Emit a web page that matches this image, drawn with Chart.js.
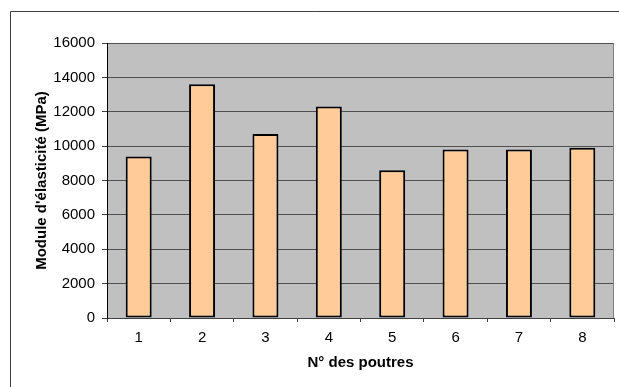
<!DOCTYPE html>
<html>
<head>
<meta charset="utf-8">
<script src="https://cdn.jsdelivr.net/npm/chart.js@4"></script>
<style>
  html, body { margin: 0; padding: 0; background: #fff; }
  #wrap { width: 619px; height: 387px; position: relative; }
</style>
</head>
<body>
<div id="wrap"><canvas id="c" width="619" height="387"></canvas></div>
<script>
const categories = ['1', '2', '3', '4', '5', '6', '7', '8'];
const modulusValues = [9400, 13600, 10700, 12300, 8600, 9800, 9800, 9900];
const yTickStep = 2000;
const yMin = 0;
const yMax = 16000;
const xTitle = 'N° des poutres';
const yTitle = "Module d'élasticité (MPa)";

const FONT = 'Liberation Sans, Arial, sans-serif';

const bgPlugin = {
  id: 'bgPlugin',
  beforeDraw(chart) {
    const { ctx, chartArea: a } = chart;
    ctx.save();
    ctx.fillStyle = '#ffffff';
    ctx.fillRect(0, 0, chart.width, chart.height);
    ctx.strokeStyle = '#404040';
    ctx.lineWidth = 1;
    ctx.beginPath();
    ctx.moveTo(10.5, chart.height);
    ctx.lineTo(10.5, 11.5);
    ctx.lineTo(chart.width, 11.5);
    ctx.stroke();
    ctx.fillStyle = '#C0C0C0';
    ctx.fillRect(a.left, a.top, a.right - a.left, a.bottom - a.top);
    ctx.restore();
  },
  afterDraw(chart) {
    const { ctx, chartArea: a } = chart;
    ctx.save();
    ctx.strokeStyle = '#808080';
    ctx.lineWidth = 1;
    ctx.beginPath();
    ctx.moveTo(Math.round(a.right) - 0.5, a.top);
    ctx.lineTo(Math.round(a.right) - 0.5, a.bottom);
    ctx.stroke();
    ctx.restore();
  }
};

new Chart(document.getElementById('c'), {
  type: 'bar',
  data: {
    labels: categories,
    datasets: [{
      data: modulusValues,
      backgroundColor: '#FFCC99',
      borderColor: '#000000',
      borderWidth: 2,
      borderSkipped: false,
      barPercentage: 0.41,
      categoryPercentage: 1.0
    }]
  },
  options: {
    responsive: false,
    animation: false,
    devicePixelRatio: 1,
    layout: { padding: { left: 33, top: 43, right: 5, bottom: 15 } },
    plugins: {
      legend: { display: false },
      tooltip: { enabled: false },
      title: { display: false }
    },
    scales: {
      x: {
        afterFit(scale) { scale.height = 54; },
        grid: {
          display: true,
          offset: true,
          drawOnChartArea: false,
          drawTicks: true,
          tickLength: 4,
          color: '#404040'
        },
        border: { display: true, color: '#404040', width: 1 },
        ticks: {
          color: '#000',
          font: { family: FONT, size: 15 },
          padding: 7,
          maxRotation: 0
        },
        title: {
          display: true,
          text: xTitle,
          color: '#000',
          font: { family: FONT, size: 15, weight: 'bold' },
          padding: 0
        }
      },
      y: {
        min: yMin,
        max: yMax,
        afterFit(scale) { scale.width = 74; },
        grid: {
          color: '#505050',
          lineWidth: 1,
          drawTicks: true,
          tickLength: 5,
          tickColor: '#404040'
        },
        border: { display: true, color: '#000', width: 1 },
        ticks: {
          stepSize: yTickStep,
          color: '#000',
          font: { family: FONT, size: 15 },
          padding: 7,
          callback: (v) => String(v)
        },
        title: {
          display: true,
          text: yTitle,
          color: '#000',
          font: { family: FONT, size: 15, weight: 'bold' },
          padding: 0
        }
      }
    }
  },
  plugins: [bgPlugin]
});
</script>
</body>
</html>
